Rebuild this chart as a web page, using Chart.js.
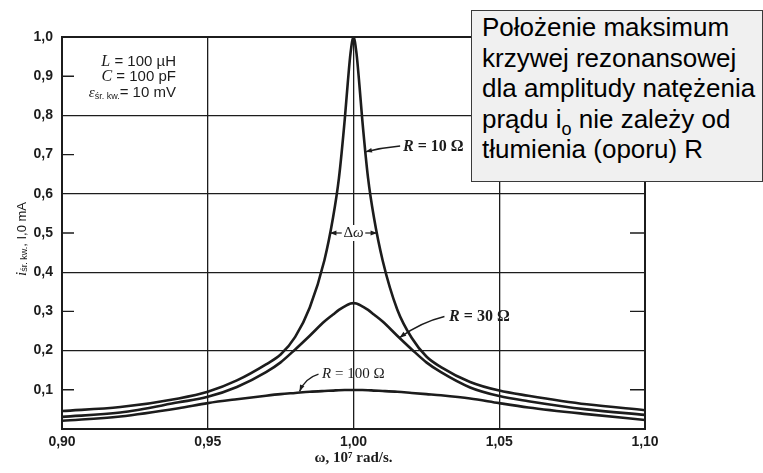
<!DOCTYPE html>
<html>
<head>
<meta charset="utf-8">
<script src="https://cdn.jsdelivr.net/npm/chart.js@4.4.0/dist/chart.umd.min.js"></script>
<style>
  html, body { margin: 0; padding: 0; background: #fff; }
  #wrap { position: relative; width: 763px; height: 473px; }
  #note {
    position: absolute; left: 471px; top: 10px; width: 292px; height: 172px;
    box-sizing: border-box; background: #f0f0f0; border: 1px solid #3a3a3a;
    font-family: "Liberation Sans", Arial, sans-serif; font-size: 26px; line-height: 30.5px;
    color: #000; padding: 1px 0 0 10px; white-space: nowrap;
  }
  #note sub { font-size: 18px; line-height: 0; vertical-align: -7px; }
</style>
</head>
<body>
<div id="wrap">
  <canvas id="resonance" width="763" height="473"></canvas>
  <div id="note">Położenie maksimum<br>krzywej rezonansowej<br>dla amplitudy natężenia<br>prądu i<sub>o</sub> nie zależy od<br>tłumienia (oporu) R</div>
</div>
<script>
// angular frequency, 10^7 rad/s
const omega = [0.90, 0.92, 0.94, 0.95, 0.96, 0.97, 0.975, 0.98, 0.985, 0.99, 0.993, 0.995, 0.997, 0.998, 0.999,
               1.00, 1.001, 1.002, 1.003, 1.005, 1.007, 1.01, 1.015, 1.02, 1.025, 1.03, 1.04, 1.05, 1.06, 1.08, 1.10];
// current amplitude, mA
const currentR10 = [0.046, 0.056, 0.078, 0.095, 0.124, 0.165, 0.19, 0.235, 0.31, 0.43, 0.54, 0.64, 0.79, 0.88, 0.96,
                    1.0, 0.96, 0.88, 0.79, 0.64, 0.54, 0.43, 0.305, 0.232, 0.185, 0.158, 0.12, 0.098, 0.085, 0.063, 0.048];
const currentR30 = [0.031, 0.042, 0.068, 0.082, 0.107, 0.145, 0.17, 0.203, 0.238, 0.274, 0.292, 0.304, 0.313, 0.317, 0.320,
                    0.321, 0.320, 0.317, 0.313, 0.304, 0.292, 0.274, 0.238, 0.203, 0.17, 0.145, 0.106, 0.084, 0.071, 0.05, 0.036];
const currentR100 = [0.021, 0.032, 0.053, 0.066, 0.076, 0.085, 0.089, 0.092, 0.095, 0.097, 0.098, 0.099, 0.0995, 0.0995, 0.0995,
                     0.0995, 0.0995, 0.0995, 0.0995, 0.099, 0.098, 0.097, 0.095, 0.092, 0.089, 0.086, 0.078, 0.066, 0.055, 0.038, 0.023];

const xTickValues = [0.90, 0.95, 1.00, 1.05, 1.10];
const xTickLabels = ['0,90', '0,95', '1,00', '1,05', '1,10'];
const yTickValues = [0, 0.1, 0.2, 0.3, 0.4, 0.5, 0.6, 0.7, 0.8, 0.9, 1.0];
const yTickLabels = ['', '0,1', '0,2', '0,3', '0,4', '0,5', '0,6', '0,7', '0,8', '0,9', '1,0'];
const minorTicks = [0.1, 0.3, 0.5, 0.7, 0.9];

const ink = '#1c1c1c';
const serif = '"Liberation Serif", "Times New Roman", serif';
const sans = '"Liberation Sans", Arial, sans-serif';

function richText(ctx, parts, x, y, align) {
  let w = 0;
  parts.forEach(p => { ctx.font = p.font; p.w = ctx.measureText(p.t).width; w += p.w; });
  let cx = align === 'right' ? x - w : align === 'center' ? x - w / 2 : x;
  const left = cx;
  parts.forEach(p => { ctx.font = p.font; ctx.fillText(p.t, cx, y + (p.dy || 0)); cx += p.w; });
  return {left: left, width: w};
}

function arrow(ctx, x0, y0, cx, cy, x1, y1) {
  ctx.beginPath();
  ctx.moveTo(x0, y0);
  ctx.quadraticCurveTo(cx, cy, x1, y1);
  ctx.stroke();
  const ang = Math.atan2(y1 - cy, x1 - cx);
  ctx.beginPath();
  ctx.moveTo(x1, y1);
  ctx.lineTo(x1 - 7 * Math.cos(ang - 0.35), y1 - 7 * Math.sin(ang - 0.35));
  ctx.lineTo(x1 - 7 * Math.cos(ang + 0.35), y1 - 7 * Math.sin(ang + 0.35));
  ctx.closePath();
  ctx.fill();
}

const decorations = {
  id: 'decorations',
  beforeDatasetsDraw(chart) {
    const {ctx, chartArea: a, scales: {y}} = chart;
    ctx.save();
    ctx.strokeStyle = ink;
    ctx.lineWidth = 2;
    ctx.strokeRect(a.left, a.top, a.right - a.left, a.bottom - a.top);
    ctx.lineWidth = 1.4;
    minorTicks.forEach(v => {
      const py = y.getPixelForValue(v);
      ctx.beginPath();
      ctx.moveTo(a.left, py); ctx.lineTo(a.left + 12, py);
      ctx.moveTo(a.right - 15, py); ctx.lineTo(a.right, py);
      ctx.stroke();
    });
    ctx.restore();
  },
  afterDatasetsDraw(chart) {
    const {ctx, scales: {x, y}} = chart;
    const px = v => x.getPixelForValue(v);
    const py = v => y.getPixelForValue(v);
    ctx.save();
    ctx.fillStyle = ink;
    ctx.strokeStyle = ink;
    ctx.textBaseline = 'middle';

    // circuit parameters
    richText(ctx, [{t: 'L', font: 'italic 16px ' + serif}, {t: ' = 100 µH', font: '15px ' + sans}], px(0.9391), py(0.936), 'right');
    richText(ctx, [{t: 'C', font: 'italic 16px ' + serif}, {t: ' = 100 pF', font: '15px ' + sans}], px(0.9391), py(0.898), 'right');
    richText(ctx, [{t: 'ε', font: 'italic 15px ' + serif}, {t: 'śr. kw.', font: '9px ' + sans, dy: 3},
                   {t: '= 10 mV', font: '15px ' + sans}], px(0.9391), py(0.857), 'right');

    // curve labels
    richText(ctx, [{t: 'R', font: 'italic bold 16px ' + serif}, {t: ' = 10 Ω', font: 'bold 16px ' + serif}], px(1.0170), py(0.719), 'left');
    richText(ctx, [{t: 'R', font: 'italic bold 16px ' + serif}, {t: ' = 30 Ω', font: 'bold 16px ' + serif}], px(1.0328), py(0.286), 'left');
    richText(ctx, [{t: 'R', font: 'italic 15px ' + serif}, {t: ' = 100 Ω', font: '15px ' + serif}], px(0.9892), py(0.140), 'left');

    ctx.lineWidth = 1.4;
    arrow(ctx, px(1.0160), py(0.722), px(1.010), py(0.718), px(1.0041), py(0.707));
    arrow(ctx, px(1.0312), py(0.287), px(1.023), py(0.272), px(1.0158), py(0.233));
    arrow(ctx, px(0.9880), py(0.140), px(0.9835), py(0.130), px(0.9815), py(0.096));

    // half-width marker
    const ty = py(0.5);
    ctx.font = '15px ' + serif;
    const tw = ctx.measureText('Δω').width;
    ctx.fillStyle = '#fff';
    ctx.fillRect(px(1.0) - tw / 2 - 2, ty - 8, tw + 4, 16);
    ctx.fillStyle = ink;
    richText(ctx, [{t: 'Δ', font: '15px ' + serif}, {t: 'ω', font: 'italic 15px ' + serif}], px(1.0), ty, 'center');
    ctx.lineWidth = 1.2;
    arrow(ctx, px(1.0) - tw / 2 - 2, ty, px(0.994), ty, px(0.9919), ty);
    arrow(ctx, px(1.0) + tw / 2 + 2, ty, px(1.006), ty, px(1.0081), ty);

    // y axis title with subscript
    ctx.translate(22, (chart.chartArea.top + chart.chartArea.bottom) / 2 + 6);
    ctx.rotate(-Math.PI / 2);
    richText(ctx, [{t: 'i', font: 'italic 15px ' + serif}, {t: 'śr. kw.', font: '9px ' + sans, dy: 3},
                   {t: ', I,0 mA', font: '13px ' + sans}], 0, 0, 'center');
    ctx.restore();
  }
};

const points = vals => omega.map((w, i) => ({x: w, y: vals[i]}));
const curveStyle = {borderColor: ink, borderWidth: 2.6, pointRadius: 0, fill: false, cubicInterpolationMode: 'monotone'};

new Chart(document.getElementById('resonance'), {
  type: 'line',
  data: {
    datasets: [
      Object.assign({label: 'R = 10 Ω', data: points(currentR10)}, curveStyle),
      Object.assign({label: 'R = 30 Ω', data: points(currentR30)}, curveStyle),
      Object.assign({label: 'R = 100 Ω', data: points(currentR100)}, curveStyle)
    ]
  },
  options: {
    responsive: false,
    animation: false,
    devicePixelRatio: 1,
    layout: {padding: {top: 37, right: 118, left: 0, bottom: 0}},
    plugins: {legend: {display: false}, tooltip: {enabled: false}},
    scales: {
      x: {
        type: 'linear', min: 0.90, max: 1.10,
        afterBuildTicks: s => { s.ticks = xTickValues.map(v => ({value: v})); },
        afterFit: s => { s.height = 44; },
        ticks: {callback: (v, i) => xTickLabels[i], color: ink, padding: 5, maxRotation: 0,
                font: {family: sans, size: 14, weight: 'bold'}},
        grid: {color: ink, lineWidth: 1.3, drawTicks: false},
        border: {color: ink, width: 2},
        title: {display: true, text: 'ω, 10⁷ rad/s.', color: ink, padding: {top: 0, bottom: 6},
                font: {family: serif, size: 15, weight: 'bold'}}
      },
      y: {
        min: 0, max: 1.0,
        afterBuildTicks: s => { s.ticks = yTickValues.map(v => ({value: v})); },
        afterFit: s => { s.width = 62; },
        ticks: {callback: (v, i) => yTickLabels[i], color: ink, padding: 9,
                font: {family: sans, size: 14, weight: 'bold'}},
        grid: {color: c => (Math.round(c.tick.value * 10) % 2 === 0 ? ink : 'rgba(0,0,0,0)'),
               lineWidth: 1.3, drawTicks: false},
        border: {color: ink, width: 2}
      }
    }
  },
  plugins: [decorations]
});
</script>
</body>
</html>
